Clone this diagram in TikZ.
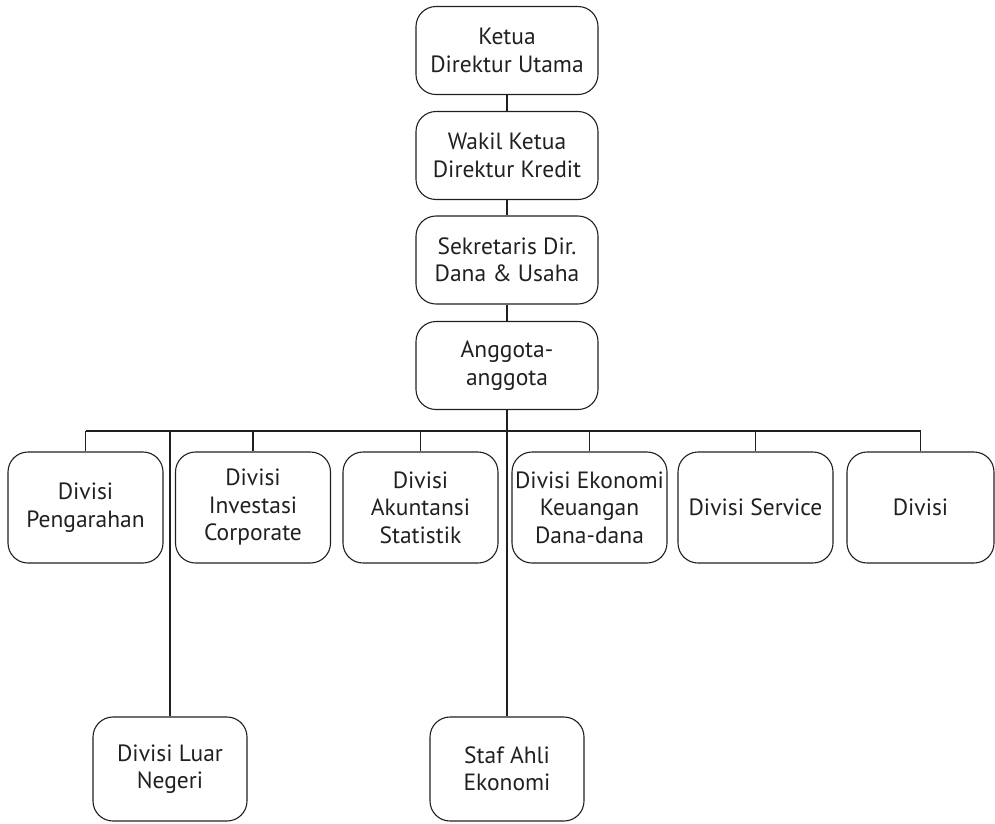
\documentclass[tikz,border=0pt]{standalone}
\usepackage{fontspec}
\setmainfont{PT Sans}
\definecolor{ink}{HTML}{231F20}
\begin{document}
\begin{tikzpicture}[x=1pt,y=-1pt,
  box/.style={draw=ink, line width=1.1pt, rounded corners=20pt, align=center,
    text=ink, font=\fontsize{23.5}{27.5}\selectfont, inner sep=0pt},
  topbox/.style={box, minimum width=182pt, minimum height=88pt},
  divbox/.style={box, minimum width=155pt, minimum height=111pt},
  lowbox/.style={box, minimum width=154pt, minimum height=104pt},
  conn/.style={draw=ink, line width=1.1pt}]
\useasboundingbox (0,0) rectangle (995,823);
\node[topbox] (a1) at (507,50.5) {Ketua\\Direktur Utama};
\node[topbox] (a2) at (507,155.5) {Wakil Ketua\\Direktur Kredit};
\node[topbox] (a3) at (507,260) {Sekretaris Dir.\\Dana \& Usaha};
\node[topbox] (a4) at (507,365.5) {Anggota-\\anggota};
\coordinate (bus) at (0,431);
\node[divbox] (d1) at (85.5,507.5) {Divisi\\Pengarahan};
\node[divbox] (d2) at (253,507.5) {Divisi\\Investasi\\Corporate};
\node[divbox] (d3) at (420.5,507.5) {Divisi\\Akuntansi\\Statistik};
\node[divbox] (d4) at (589.5,507.5) {Divisi Ekonomi\\Keuangan\\Dana-dana};
\node[divbox] (d5) at (755.5,507.5) {Divisi Service};
\node[divbox, minimum width=147pt] (d6) at (920.5,507.5) {Divisi};
\node[lowbox] (l1) at (170,769) {Divisi Luar\\Negeri};
\node[lowbox] (l2) at (507,769) {Staf Ahli\\Ekonomi};
\draw[conn] (a1) -- (a2);
\draw[conn] (a2) -- (a3);
\draw[conn] (a3) -- (a4);
\draw[conn] (a4) -- (l2);
\draw[conn] (d1.north |- bus) -- (d6.north |- bus);
\foreach \n in {d1,d2,d3,d4,d5,d6} \draw[conn] (\n.north |- bus) -- (\n.north);
\draw[conn] (l1.north |- bus) -- (l1.north);
\end{tikzpicture}
\end{document}
